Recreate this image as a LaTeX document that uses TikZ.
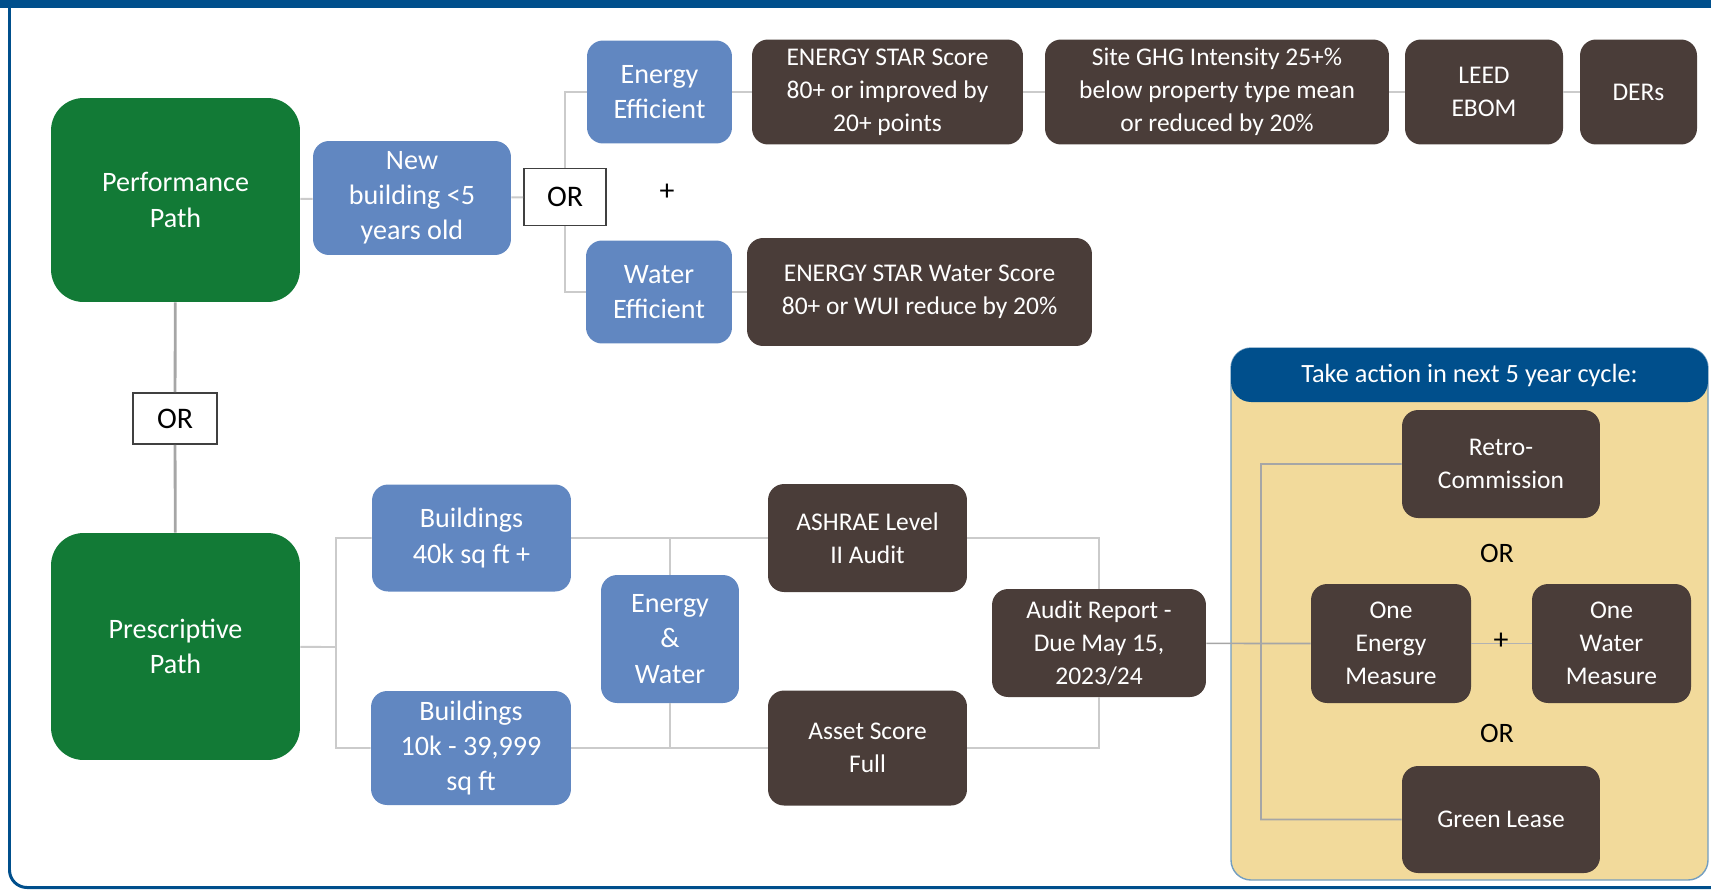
\documentclass[tikz,border=0pt]{standalone}
\usepackage{fontspec}
\setmainfont{Carlito}
\usepackage{xcolor}
\definecolor{pathgreen}{HTML}{127A36}
\definecolor{stepblue}{HTML}{6187C1}
\definecolor{stepbrown}{HTML}{4A3D39}
\definecolor{panelyellow}{HTML}{F2DA9B}
\definecolor{frameblue}{HTML}{004F8C}
\definecolor{linkgrey}{HTML}{CBCBCB}

\begin{document}
\begin{tikzpicture}[x=0.02cm,y=-0.02cm,
        greenbox/.style={fill=pathgreen,rounded corners=0.65cm,text=white,align=center,inner sep=0pt,font=\fontsize{16}{20}\selectfont},
        bluebox/.style={fill=stepblue,rounded corners=0.32cm,text=white,align=center,inner sep=0pt,font=\fontsize{16}{20}\selectfont},
        darkbox/.style={fill=stepbrown,rounded corners=0.32cm,text=white,align=center,inner sep=0pt,font=\fontsize{14.5}{18.8}\selectfont},
        orbox/.style={draw=black!75,fill=white,line width=0.9pt,inner sep=0pt,font=\fontsize{17}{20}\selectfont},
        link/.style={draw=linkgrey,line width=1.1pt}]
                        \useasboundingbox (0,0) rectangle (1711,890);
                        % frame
                        \fill[frameblue] (0,0) rectangle (1711,8);
                        \draw[frameblue,line width=1.7pt,rounded corners=0.35cm] (9.5,0) -- (9.5,887.5) -- (1711,887.5);

                        % performance path
                        \node (perf) at (175.5,200) [greenbox,minimum width=4.98cm,minimum height=4.08cm] {Performance\\Path};
                        \node (newb) at (412,198) [bluebox,minimum width=3.96cm,minimum height=2.28cm] {New\\building <5\\years old};
                        \node (ortop) at (565,197) [orbox,minimum width=1.64cm,minimum height=1.14cm] {OR};
                        \node (enEff) at (659.5,92) [bluebox,minimum width=2.9cm,minimum height=2.06cm] {Energy\\Efficient};
                        \node (esScore) at (887.5,92) [darkbox,minimum width=5.42cm,minimum height=2.1cm] {ENERGY STAR Score\\80+ or improved by\\20+ points};
                        \node (ghg) at (1217,92) [darkbox,minimum width=6.88cm,minimum height=2.1cm] {Site GHG Intensity 25+\%\\below property type mean\\or reduced by 20\%};
                        \node (leed) at (1484,92) [darkbox,minimum width=3.16cm,minimum height=2.1cm] {LEED\\EBOM};
                        \node (ders) at (1638.5,92) [darkbox,minimum width=2.34cm,minimum height=2.1cm] {DERs};
                        \node (plusA) at (667,192) [font=\fontsize{17}{20}\selectfont] {+};
                        \node (waEff) at (659,292) [bluebox,minimum width=2.92cm,minimum height=2.06cm] {Water\\Efficient};
                        \node (esWater) at (919.5,292) [darkbox,minimum width=6.9cm,minimum height=2.16cm] {ENERGY STAR Water Score\\80+ or WUI reduce by 20\%};

                        \draw[link] (perf) -- (newb) (newb) -- (ortop);
                        \draw[link] (enEff) -| (ortop) (waEff) -| (ortop);
                        \draw[link] (enEff) -- (esScore) -- (ghg) -- (leed) -- (ders);
                        \draw[link] (waEff) -- (esWater);

                        % prescriptive path
                        \node (ormid) at (175,418.5) [orbox,minimum width=1.68cm,minimum height=1.02cm] {OR};
                        \node (presc) at (175.5,646.5) [greenbox,minimum width=4.98cm,minimum height=4.54cm] {Prescriptive\\Path};
                        \draw[draw=black!35,line width=1.6pt] (perf) -- (ormid) -- (presc);

                        \node (bigB) at (471.5,538) [bluebox,minimum width=3.98cm,minimum height=2.14cm] {Buildings\\40k sq ft +};
                        \node (smallB) at (471,748) [bluebox,minimum width=4cm,minimum height=2.28cm] {Buildings\\10k - 39,999\\sq ft};
                        \node (enWa) at (670,639) [bluebox,minimum width=2.76cm,minimum height=2.56cm] {Energy\\\&\\Water};
                        \node (ashrae) at (867.5,538) [darkbox,minimum width=3.98cm,minimum height=2.16cm] {ASHRAE Level\\II Audit};
                        \node (asset) at (867.5,748) [darkbox,minimum width=3.98cm,minimum height=2.3cm] {Asset Score\\Full};
                        \node (audit) at (1099,643) [darkbox,minimum width=4.28cm,minimum height=2.16cm] {Audit Report -\\Due May 15,\\2023/24};
                        \coordinate (pj) at (336,647);

                        \draw[link] (presc) -- (pj) (bigB) -| (pj) (smallB) -| (pj);
                        \draw[link] (bigB) -- (ashrae) (smallB) -- (asset);
                        \draw[link] (enWa) -- (enWa |- bigB) (enWa) -- (enWa |- smallB);
                        \draw[link] (ashrae) -| (audit) (asset) -| (audit);

                        % action panel
                        \filldraw[fill=panelyellow,draw=frameblue!55,line width=0.8pt,rounded corners=0.4cm] (1231,348) rectangle (1708,880);
                        \node (head) at (1469.5,375) [fill=frameblue,rounded corners=0.4cm,minimum width=9.54cm,minimum height=1.08cm,inner sep=0pt,text=white,font=\fontsize{15}{18}\selectfont] {Take action in next 5 year cycle:};
                        \node (retro) at (1501,464) [darkbox,minimum width=3.96cm,minimum height=2.16cm] {Retro-\\Commission};
                        \node (orB) at (1497,553) [font=\fontsize{16}{20}\selectfont] {OR};
                        \node (oneE) at (1391,643.5) [darkbox,minimum width=3.2cm,minimum height=2.38cm] {One\\Energy\\Measure};
                        \node (oneW) at (1611.5,643.5) [darkbox,minimum width=3.18cm,minimum height=2.38cm] {One\\Water\\Measure};
                        \node (orC) at (1497,733) [font=\fontsize{16}{20}\selectfont] {OR};
                        \node (lease) at (1501,819.5) [darkbox,minimum width=3.96cm,minimum height=2.14cm] {Green Lease};
                        \coordinate (aj) at (1261,643.5);

                        \draw[link,draw=black!35,line width=0.9pt] (audit) -- (aj) (retro) -| (aj) (lease) -| (aj) (oneE) -- (aj);
                        \draw[link,draw=black!30,line width=0.9pt] (oneE) -- (oneW);
                        \node (plusB) at (1501,641) [font=\fontsize{17}{20}\selectfont] {+};
                \end{tikzpicture}
\end{document}
